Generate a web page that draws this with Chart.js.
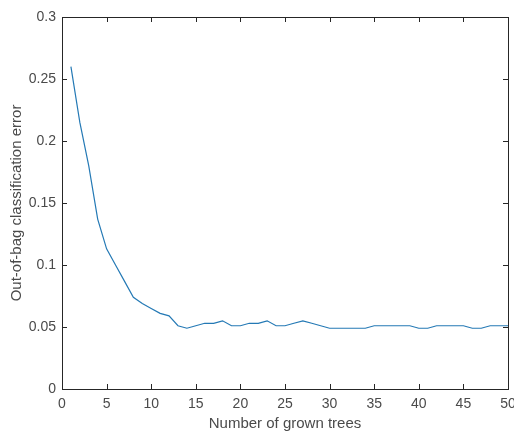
<!DOCTYPE html>
<html>
<head>
<meta charset="utf-8">
<script src="https://cdn.jsdelivr.net/npm/chart.js@4.4.1/dist/chart.umd.min.js"></script>
<style>
  html, body { margin: 0; padding: 0; background: #fff; }
  #wrap { width: 514px; height: 433px; }
</style>
</head>
<body>
<div id="wrap"><canvas id="oobChart" width="514" height="433"></canvas></div>
<script>
// number of grown trees (x) and out-of-bag error
const treeCounts = [1, 2, 3, 4, 5, 6, 7, 8, 9, 10,
                    11, 12, 13, 14, 15, 16, 17, 18, 19, 20,
                    21, 22, 23, 24, 25, 26, 27, 28, 29, 30,
                    31, 32, 33, 34, 35, 36, 37, 38, 39, 40,
                    41, 42, 43, 44, 45, 46, 47, 48, 49, 50];
const oobError = [0.260, 0.215, 0.180, 0.137, 0.113, 0.100, 0.087, 0.074, 0.069, 0.065,
                  0.061, 0.059, 0.051, 0.049, 0.051, 0.053, 0.053, 0.055, 0.051, 0.051,
                  0.053, 0.053, 0.055, 0.051, 0.051, 0.053, 0.055, 0.053, 0.051, 0.049,
                  0.049, 0.049, 0.049, 0.049, 0.051, 0.051, 0.051, 0.051, 0.051, 0.049,
                  0.049, 0.051, 0.051, 0.051, 0.051, 0.049, 0.049, 0.051, 0.051, 0.051];
const xTitle = 'Number of grown trees';
const yTitle = 'Out-of-bag classification error';

const axisColor = '#262626';
const labelColor = '#4a4a4a';
const fontFamily = 'Arial, "Liberation Sans", Helvetica, sans-serif';

// matlab style box with inward ticks on all four sides
const boxPlugin = {
    id: 'matlabBox',
    afterDraw(chart) {
        const ctx = chart.ctx;
        const a = chart.chartArea;
        const xs = chart.scales.x;
        const ys = chart.scales.y;
        const len = 5;
        ctx.save();
        ctx.strokeStyle = axisColor;
        ctx.lineWidth = 1;
        ctx.strokeRect(Math.round(a.left) + 0.5, Math.round(a.top) + 0.5,
                       Math.round(a.right - a.left), Math.round(a.bottom - a.top));
        ctx.beginPath();
        xs.ticks.forEach(t => {
            const px = Math.round(xs.getPixelForValue(t.value)) + 0.5;
            ctx.moveTo(px, a.bottom); ctx.lineTo(px, a.bottom - len);
            ctx.moveTo(px, a.top); ctx.lineTo(px, a.top + len);
        });
        ys.ticks.forEach(t => {
            const py = Math.round(ys.getPixelForValue(t.value)) + 0.5;
            ctx.moveTo(a.left, py); ctx.lineTo(a.left + len, py);
            ctx.moveTo(a.right, py); ctx.lineTo(a.right - len, py);
        });
        ctx.stroke();
        ctx.restore();
    }
};

const ctx = document.getElementById('oobChart').getContext('2d');
const oobChart = new Chart(ctx, {
    type: 'line',
    data: {
        datasets: [{
            label: 'OOB error',
            data: treeCounts.map((n, i) => ({ x: n, y: oobError[i] })),
            borderColor: '#2479b5',
            borderWidth: 1.2,
            pointRadius: 0,
            tension: 0,
            fill: false
        }]
    },
    options: {
        responsive: false,
        animation: false,
        layout: { padding: { top: 17, right: 6, left: 0, bottom: 0 } },
        plugins: {
            legend: { display: false },
            tooltip: { enabled: false }
        },
        scales: {
            x: {
                type: 'linear',
                min: 0,
                max: 50,
                grid: { display: false, drawTicks: false },
                border: { display: false },
                ticks: {
                    stepSize: 5,
                    padding: 7,
                    maxRotation: 0,
                    color: labelColor,
                    font: { family: fontFamily, size: 14 }
                },
                title: {
                    display: true,
                    text: xTitle,
                    color: labelColor,
                    padding: { top: 0, bottom: 0 },
                    font: { family: fontFamily, size: 15 }
                },
                afterFit(scale) {
                    scale.height = 44;
                    // let the last label run off the edge like the original
                    scale.paddingRight = 0;
                    scale.paddingLeft = 0;
                }
            },
            y: {
                type: 'linear',
                min: 0,
                max: 0.3,
                grid: { display: false, drawTicks: false },
                border: { display: false },
                ticks: {
                    stepSize: 0.05,
                    padding: 6,
                    color: labelColor,
                    font: { family: fontFamily, size: 14 },
                    callback: v => String(Math.round(v * 100) / 100)
                },
                title: {
                    display: true,
                    text: yTitle,
                    color: labelColor,
                    padding: { top: 8, bottom: 0 },
                    font: { family: fontFamily, size: 15 }
                },
                afterFit(scale) {
                    scale.width = 62;
                    scale.paddingTop = 0;
                    scale.paddingBottom = 0;
                }
            }
        }
    },
    plugins: [boxPlugin]
});
</script>
</body>
</html>
